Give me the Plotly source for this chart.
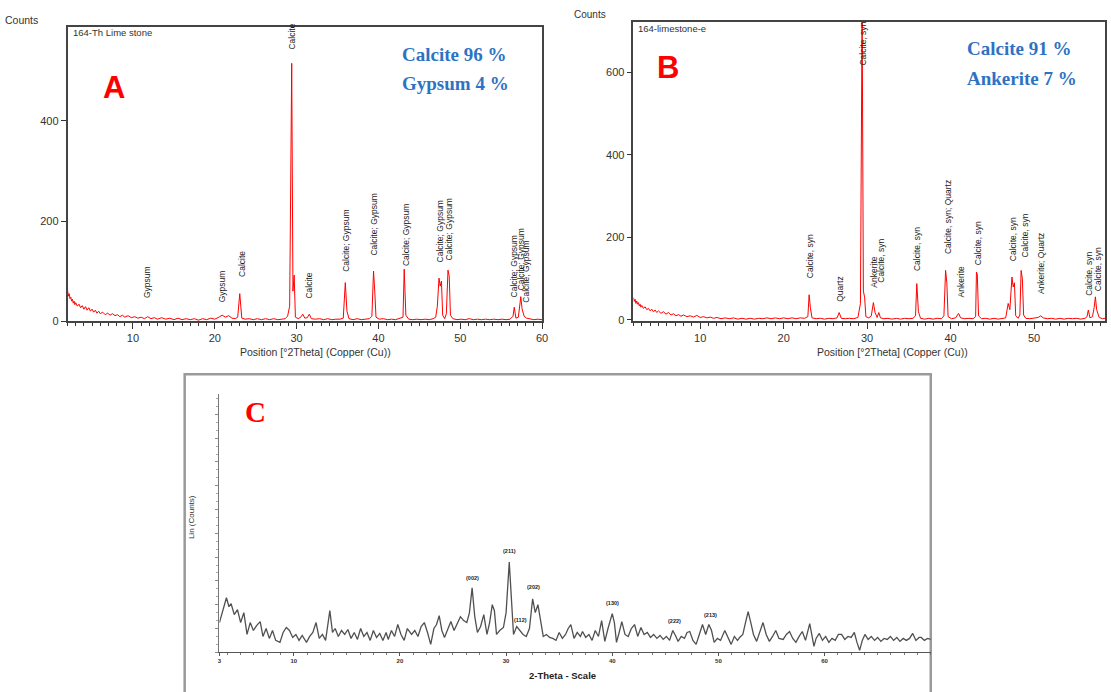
import plotly.graph_objects as go

W, H = 1111, 692

# ---------------- Panel A data (164-Th Lime stone) ----------------
A_2theta = [2.0, 2.1, 2.2, 2.3, 2.4, 2.5, 2.6, 2.7, 2.8, 2.9, 3.0, 3.2, 3.4, 3.6, 3.8, 4.0, 4.2, 4.4, 4.6, 4.8,
            5.0, 5.2, 5.4, 5.6, 5.8, 6.0, 6.3, 6.6, 6.9, 7.2, 7.5, 7.8, 8.1, 8.4, 8.7, 9.0, 9.4, 9.8, 10.2, 10.6,
            11.0, 11.4, 11.8, 12.2, 12.6, 13.0, 13.5, 14.0, 14.5, 15.0, 15.5, 16.0, 16.5, 17.0, 17.5, 18.0, 18.5,
            19.0, 19.5, 20.0, 20.5, 20.9, 21.3, 21.7, 22.1, 22.5, 22.8, 23.05, 23.3, 23.7, 24.2, 24.7, 25.2, 25.7,
            26.2, 26.7, 27.2, 27.7, 28.2, 28.6, 28.9, 29.15, 29.4, 29.55, 29.7, 29.85, 30.2, 30.5, 30.75, 31.0,
            31.3, 31.55, 31.8, 32.3, 32.8, 33.3, 33.8, 34.3, 34.8, 35.3, 35.7, 35.95, 36.15, 36.4, 36.9, 37.4,
            37.9, 38.4, 38.9, 39.2, 39.4, 39.55, 39.7, 40.1, 40.6, 41.1, 41.6, 42.1, 42.6, 43.0, 43.15, 43.35,
            43.7, 44.2, 44.7, 45.2, 45.7, 46.2, 46.7, 47.0, 47.2, 47.4, 47.55, 47.7, 47.85, 48.1, 48.3, 48.5,
            48.65, 48.8, 49.1, 49.6, 50.1, 50.6, 51.1, 51.6, 52.1, 52.6, 53.1, 53.6, 54.1, 54.6, 55.1, 55.6,
            56.1, 56.45, 56.6, 56.8, 57.1, 57.25, 57.4, 57.55, 57.8, 58.1, 58.5, 59.0, 59.5, 60.0]
A_counts = [62, 50, 55, 45, 48, 40, 44, 36, 40, 33, 37, 30, 34, 27, 31, 24, 29, 22, 27, 20,
            24, 18, 22, 16, 20, 15, 18, 13, 16, 12, 15, 11, 13, 9, 12, 8, 11, 7, 9, 6,
            8, 5, 9, 5, 7, 4, 7, 4, 6, 3, 6, 3, 5, 3, 5, 2, 5,
            3, 6, 4, 8, 12, 8, 11, 6, 5, 8, 55, 6, 4, 5, 3, 5, 3,
            5, 3, 5, 3, 4, 5, 10, 30, 515, 60, 92, 8, 5, 8, 14, 6,
            7, 14, 5, 4, 5, 3, 5, 3, 4, 4, 6, 77, 20, 5, 3, 5,
            3, 4, 5, 10, 100, 60, 8, 4, 5, 3, 4, 3, 5, 8, 104, 12,
            4, 3, 4, 3, 4, 3, 5, 8, 30, 86, 70, 80, 12, 5, 15, 102,
            90, 12, 5, 3, 4, 3, 5, 3, 4, 3, 4, 3, 4, 3, 4, 3,
            4, 10, 28, 6, 8, 30, 49, 25, 10, 6, 4, 3, 4, 3]

A_label_pos = [11.7, 20.9, 23.3, 29.4, 31.5, 36.0, 39.45, 43.3, 47.5, 48.6, 56.6, 57.4, 58.1]
A_label_base = [42, 34, 84, 538, 41, 94, 127, 107, 113, 117, 44, 57, 32]
A_label_text = ["Gypsum", "Gypsum", "Calcite", "Calcite", "Calcite", "Calcite; Gypsum", "Calcite; Gypsum",
                "Calcite; Gypsum", "Calcite; Gypsum", "Calcite; Gypsum", "Calcite; Gypsum",
                "Calcite; Gypsum", "Calcite; Gypsum"]

# ---------------- Panel B data (164-limestone-e) ----------------
B_2theta = [2.0, 2.1, 2.2, 2.3, 2.4, 2.5, 2.6, 2.7, 2.8, 2.9, 3.0, 3.2, 3.4, 3.6, 3.8, 4.0, 4.2, 4.4, 4.6, 4.8,
            5.0, 5.3, 5.6, 5.9, 6.2, 6.5, 6.8, 7.1, 7.4, 7.7, 8.0, 8.4, 8.8, 9.2, 9.6, 10.0, 10.4, 10.8, 11.2,
            11.6, 12.0, 12.5, 13.0, 13.5, 14.0, 14.5, 15.0, 15.5, 16.0, 16.5, 17.0, 17.5, 18.0, 18.5, 19.0,
            19.5, 20.0, 20.5, 21.0, 21.5, 22.0, 22.5, 22.9, 23.05, 23.2, 23.4, 23.9, 24.4, 24.9, 25.4, 25.9,
            26.4, 26.65, 26.9, 27.4, 27.9, 28.4, 28.9, 29.2, 29.4, 29.55, 29.7, 29.85, 30.2, 30.5, 30.75,
            30.95, 31.2, 31.4, 31.6, 32.0, 32.5, 33.0, 33.5, 34.0, 34.5, 35.0, 35.5, 35.8, 35.95, 36.15,
            36.4, 36.9, 37.4, 37.9, 38.4, 38.9, 39.2, 39.4, 39.55, 39.7, 40.1, 40.6, 40.95, 41.2, 41.7, 42.2,
            42.7, 43.0, 43.1, 43.2, 43.35, 43.7, 44.2, 44.7, 45.2, 45.7, 46.2, 46.6, 46.9, 47.1, 47.35, 47.5,
            47.65, 47.8, 48.1, 48.3, 48.45, 48.6, 48.75, 49.0, 49.5, 50.0, 50.5, 50.8, 51.1, 51.6, 52.1,
            52.6, 53.1, 53.6, 54.1, 54.6, 55.1, 55.6, 56.1, 56.35, 56.5, 56.7, 57.0, 57.2, 57.35, 57.5,
            57.8, 58.2, 58.5]
B_counts = [54, 45, 50, 40, 46, 38, 42, 34, 38, 31, 35, 28, 32, 25, 28, 22, 26, 20, 24, 18,
            22, 16, 20, 14, 18, 12, 15, 10, 13, 9, 12, 8, 10, 7, 11, 6, 8, 5, 7,
            4, 6, 3, 5, 3, 5, 2, 4, 2, 4, 2, 4, 3, 5, 3, 5,
            3, 5, 3, 5, 3, 5, 4, 8, 61, 30, 5, 3, 4, 2, 4, 3,
            5, 18, 4, 3, 4, 3, 6, 40, 760, 70, 55, 8, 5, 10, 42,
            18, 6, 18, 5, 3, 4, 2, 4, 2, 4, 3, 4, 10, 88, 20,
            4, 2, 4, 2, 4, 3, 10, 120, 90, 8, 3, 5, 16, 5, 3, 4,
            3, 8, 116, 110, 10, 3, 4, 2, 4, 2, 4, 5, 40, 25, 104, 80,
            90, 10, 4, 12, 120, 100, 12, 4, 3, 4, 6, 10, 5, 3, 4,
            2, 4, 2, 4, 3, 4, 2, 4, 8, 24, 5, 8, 30, 56, 25,
            6, 3, 4]

B_label_pos = [23.1, 26.8, 29.5, 30.8, 31.7, 36.0, 39.7, 41.2, 43.3, 47.5, 48.9, 50.9, 56.6, 57.6]
B_label_base = [95, 40, 611, 74, 86, 114, 155, 50, 128, 138, 146, 58, 54, 66]
B_label_text = ["Calcite, syn", "Quartz", "Calcite, syn", "Ankerite", "Calcite, syn", "Calcite, syn",
                "Calcite, syn; Quartz", "Ankerite", "Calcite, syn", "Calcite, syn", "Calcite, syn",
                "Ankerite; Quartz", "Calcite, syn", "Calcite, syn"]

# ---------------- Panel C data ----------------
C_2theta = [3.0, 3.3, 3.66, 3.9, 4.1, 4.4, 4.7, 5.0, 5.3, 5.6, 5.9, 6.2, 6.5, 6.84, 7.1, 7.4, 7.7, 8.0, 8.3,
            8.7, 9.0, 9.3, 9.6, 9.9, 10.2, 10.5, 10.8, 11.2, 11.5, 11.8, 12.1, 12.4, 12.7, 13.0, 13.4, 13.65,
            13.9, 14.2, 14.5, 14.8, 15.1, 15.4, 15.7, 16.0, 16.3, 16.6, 16.9, 17.2, 17.5, 17.8, 18.1, 18.4,
            18.7, 18.9, 19.2, 19.5, 19.8, 20.1, 20.4, 20.7, 21.1, 21.4, 21.7, 22.0, 22.3, 22.6, 22.9, 23.2,
            23.45, 23.7, 23.95, 24.2, 24.5, 24.8, 25.1, 25.4, 25.7, 26.0, 26.3, 26.55, 26.8, 27.05, 27.3,
            27.6, 27.9, 28.2, 28.45, 28.7, 28.9, 29.1, 29.4, 29.75, 30.0, 30.3, 30.5, 30.7, 31.0, 31.3, 31.6,
            31.9, 32.2, 32.5, 32.75, 33.0, 33.25, 33.5, 33.8, 34.1, 34.4, 34.7, 35.0, 35.3, 35.6, 35.85, 36.1,
            36.4, 36.7, 37.0, 37.2, 37.5, 37.8, 38.1, 38.4, 38.7, 39.0, 39.3, 39.6, 40.0, 40.2, 40.4, 40.65,
            40.9, 41.2, 41.5, 41.8, 42.1, 42.4, 42.7, 43.0, 43.3, 43.6, 43.9, 44.2, 44.5, 44.8, 45.1, 45.4,
            45.7, 46.0, 46.2, 46.5, 46.8, 47.05, 47.3, 47.6, 47.9, 48.2, 48.5, 48.8, 49.1, 49.35, 49.6, 49.9,
            50.2, 50.6, 50.9, 51.2, 51.5, 51.8, 52.0, 52.3, 52.55, 52.8, 53.05, 53.3, 53.6, 53.9, 54.2, 54.5,
            54.8, 55.1, 55.4, 55.7, 56.1, 56.4, 56.7, 57.0, 57.3, 57.6, 57.9, 58.2, 58.6, 59.0, 59.2, 59.5,
            59.8, 60.1, 60.4, 60.7, 61.0, 61.3, 61.6, 61.9, 62.2, 62.5, 62.8, 63.05, 63.3, 63.55, 63.8, 64.1,
            64.4, 64.7, 65.0, 65.3, 65.6, 65.9, 66.2, 66.5, 66.8, 67.1, 67.4, 67.7, 68.0, 68.3, 68.6, 68.9,
            69.1, 69.4, 69.7, 70.0]
C_counts = [30, 42, 55, 46, 49, 38, 43, 30, 40, 18, 30, 22, 27, 31, 16, 24, 14, 22, 12,
            10, 20, 25, 22, 15, 18, 12, 17, 10, 16, 20, 30, 14, 18, 12, 42, 20,
            24, 16, 22, 18, 23, 14, 20, 13, 24, 16, 20, 12, 22, 15, 19, 12,
            20, 13, 22, 16, 28, 18, 12, 24, 18, 22, 16, 26, 30, 20, 8, 24,
            28, 37, 22, 15, 24, 31, 22, 30, 36, 32, 30, 40, 65, 36, 20,
            26, 38, 18, 30, 48, 42, 18, 22, 25, 40, 91, 50, 18, 26, 22, 18,
            16, 24, 54, 40, 48, 30, 16, 18, 15, 14, 12, 20, 14, 18, 24, 28,
            14, 20, 16, 21, 15, 18, 12, 22, 16, 32, 11, 24, 39, 30, 10, 20,
            31, 18, 16, 24, 28, 16, 25, 18, 20, 15, 18, 14, 17, 13, 16, 12,
            22, 16, 11, 16, 14, 20, 21, 12, 8, 18, 28, 18, 28, 22, 10, 14,
            12, 22, 14, 8, 16, 12, 15, 18, 30, 41, 30, 18, 11, 20, 30, 18,
            11, 16, 22, 14, 13, 18, 21, 14, 10, 16, 21, 12, 29, 6, 14, 19,
            12, 16, 10, 14, 12, 18, 18, 13, 16, 15, 20, 10, 2, 12, 18, 13,
            16, 12, 15, 11, 14, 13, 16, 12, 15, 11, 14, 12, 14, 19, 12, 15,
            15, 12, 14, 13]

C_label_pos = [26.8, 30.3, 32.6, 31.4, 40.0, 45.9, 49.3]
C_label_val = [70, 97, 61, 28, 45, 27, 33]
C_label_text = ["(002)", "(211)", "(202)", "(112)", "(130)", "(222)", "(213)"]

C_ticks = [3, 10, 20, 30, 40, 50, 60]


def px_x(p):
    return p / W


def px_y(p):
    return 1 - p / H


fig = go.Figure()
fig.add_trace(go.Scatter(x=A_2theta, y=A_counts, mode="lines", line=dict(color="#ff0000", width=1),
                         xaxis="x", yaxis="y", showlegend=False, hoverinfo="skip"))
fig.add_trace(go.Scatter(x=B_2theta, y=B_counts, mode="lines", line=dict(color="#ff0000", width=1),
                         xaxis="x2", yaxis="y2", showlegend=False, hoverinfo="skip"))
fig.add_trace(go.Scatter(x=C_2theta, y=C_counts, mode="lines", line=dict(color="#505050", width=1.3),
                         xaxis="x3", yaxis="y3", showlegend=False, hoverinfo="skip"))

tickfont = dict(family="Liberation Sans", size=11, color="#333333")
axis_common = dict(showgrid=False, zeroline=False, showline=True, mirror=True, linecolor="#444444",
                   linewidth=1.5, ticks="outside", tickcolor="#333333", ticklen=5, tickfont=tickfont)

annotations = []
for xp, yb, t in zip(A_label_pos, A_label_base, A_label_text):
    annotations.append(dict(x=xp, y=yb, xref="x", yref="y", text=t, showarrow=False, textangle=-90,
                            xanchor="center", yanchor="bottom",
                            font=dict(family="Liberation Sans", size=8.5, color="#222222")))
for xp, yb, t in zip(B_label_pos, B_label_base, B_label_text):
    annotations.append(dict(x=xp, y=yb, xref="x2", yref="y2", text=t, showarrow=False, textangle=-90,
                            xanchor="center", yanchor="bottom",
                            font=dict(family="Liberation Sans", size=8.5, color="#222222")))
for xp, yv, t in zip(C_label_pos, C_label_val, C_label_text):
    annotations.append(dict(x=xp, y=yv, xref="x3", yref="y3", text=t, showarrow=False,
                            xanchor="center", yanchor="bottom",
                            font=dict(family="Liberation Sans", size=5.5, color="#222222", weight="bold")))


def paper_text(x, y, text, size, color="#333333", family="Liberation Sans", xanchor="left",
               yanchor="middle", bold=False, angle=0):
    annotations.append(dict(x=px_x(x), y=px_y(y), xref="paper", yref="paper", text=text, showarrow=False,
                            xanchor=xanchor, yanchor=yanchor, textangle=angle,
                            font=dict(family=family, size=size, color=color,
                                      weight="bold" if bold else "normal")))


# Panel A texts
paper_text(38, 20, "Counts", 10.5, xanchor="right")
paper_text(69, 33, "164-Th Lime stone", 9.5)
paper_text(113, 88, "A", 31, color="#ff0000", xanchor="center", bold=True)
paper_text(401, 55, "Calcite 96 %", 19, color="#2e72c4", family="Liberation Serif", bold=True)
paper_text(401, 84, "Gypsum 4 %", 19, color="#2e72c4", family="Liberation Serif", bold=True)
paper_text(316, 355, "Position [°2Theta] (Copper (Cu))", 10.5, xanchor="center")
# Panel B texts
paper_text(592, 15, "Counts", 10, xanchor="center")
paper_text(639, 29, "164-limestone-e", 9.5)
paper_text(671, 68, "B", 31, color="#ff0000", xanchor="center", bold=True)
paper_text(970, 49, "Calcite 91 %", 19, color="#2e72c4", family="Liberation Serif", bold=True)
paper_text(970, 79, "Ankerite 7 %", 19, color="#2e72c4", family="Liberation Serif", bold=True)
paper_text(897, 355, "Position [°2Theta] (Copper (Cu))", 10.5, xanchor="center")
# Panel C texts
paper_text(255, 416, "C", 29, color="#ff0000", family="Liberation Serif", xanchor="center", bold=True)
paper_text(565, 681, "2-Theta - Scale", 9.5, color="#222222", xanchor="center", bold=True)
paper_text(191, 522, "Lin (Counts)", 8, color="#333333", xanchor="center", angle=-90)

shapes = [dict(type="rect", xref="paper", yref="paper", x0=px_x(184), x1=px_x(935.5), y0=px_y(700),
               y1=px_y(377.5), line=dict(color="#9a9a9a", width=2.5), fillcolor="rgba(0,0,0,0)", layer="below")]

fig.update_layout(
    width=W, height=H, margin=dict(l=0, r=0, t=0, b=0), paper_bgcolor="white", plot_bgcolor="white",
    xaxis=dict(axis_common, domain=[px_x(66), px_x(544)], range=[2, 60], tickmode="linear", tick0=0, dtick=10,
               anchor="y", ticklen=6, minor=dict(ticks="outside", dtick=1, ticklen=3, tickcolor="#333333")),
    yaxis=dict(axis_common, domain=[px_y(324), px_y(27)], range=[0, 588], tickmode="array",
               tickvals=[0, 200, 400], anchor="x"),
    xaxis2=dict(axis_common, domain=[px_x(636), 1.0], range=[2, 58.5], tickmode="linear", tick0=0, dtick=10,
                anchor="y2", ticklen=6, minor=dict(ticks="outside", dtick=1, ticklen=3, tickcolor="#333333")),
    yaxis2=dict(axis_common, domain=[px_y(324), px_y(22)], range=[-3, 722], tickmode="array",
                tickvals=[0, 200, 400, 600], anchor="x2"),
    xaxis3=dict(showgrid=False, zeroline=False, showline=True, mirror=False, linecolor="#555555", linewidth=1,
                domain=[px_x(219), px_x(935.5)], range=[3, 70], tickmode="array", tickvals=C_ticks,
                ticktext=[str(v) for v in C_ticks], ticks="outside", ticklen=3, tickcolor="#555555",
                tickfont=dict(family="Liberation Sans", size=6, color="#333333", weight="bold"), anchor="y3",
                minor=dict(ticks="outside", dtick=1.25, ticklen=2, tickcolor="#777777")),
    yaxis3=dict(showgrid=False, zeroline=False, showline=True, linecolor="#777777", linewidth=1,
                domain=[px_y(658), px_y(397)], range=[0, 261], tickmode="linear", tick0=0, dtick=24,
                ticks="outside", ticklen=3, tickcolor="#888888", showticklabels=False, anchor="x3",
                minor=dict(ticks="outside", dtick=8, ticklen=2, tickcolor="#aaaaaa")),
    annotations=annotations, shapes=shapes,
)

fig.write_html("out.html", config={"displayModeBar": False},
               post_script="document.body.style.margin='0';document.body.style.overflow='hidden';")
